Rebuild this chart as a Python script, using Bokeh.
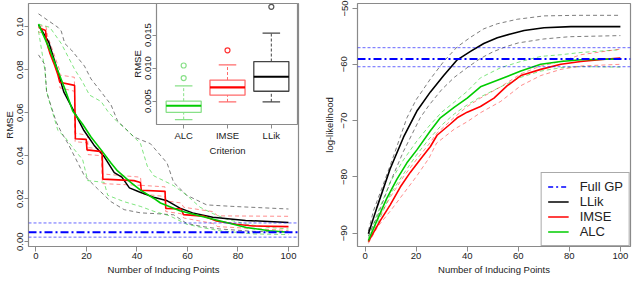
import numpy as np
from bokeh.plotting import figure
from bokeh.models import (GridBox, Span, Legend, LegendItem, FixedTicker,
                          NumeralTickFormatter, Range1d)
from bokeh.embed import file_html
from bokeh.resources import INLINE

FONT = "Liberation Sans"

# ---------------- Left panel data: RMSE vs number of inducing points ----------------
llik_x = [1, 5, 8, 11, 15, 19, 23, 27, 31, 34, 37, 41, 47, 52, 57, 62, 70, 83, 100]
llik_y = [0.1009, 0.093, 0.0817, 0.0697, 0.0607, 0.0517, 0.0449, 0.0396, 0.0321, 0.0300,
          0.0250, 0.0231, 0.0205, 0.0190, 0.0156, 0.0134, 0.0114, 0.0099, 0.0089]
llik_hi_x = [1, 8.7, 10, 11.4, 14, 19.2, 21.8, 25.8, 29.7, 32.3, 38.8, 45.3, 51.9, 54.5,
             59.7, 67.6, 78, 100]
llik_hi_y = [0.106, 0.0997, 0.098, 0.0922, 0.0892, 0.0817, 0.0757, 0.0697, 0.0637, 0.0562,
             0.0487, 0.0456, 0.0366, 0.0276, 0.0216, 0.0171, 0.0164, 0.0152]
llik_lo_x = [1, 3.5, 4.2, 6.2, 8.1, 10, 12.7, 15.3, 19.2, 24.4, 29.7, 34.9, 41.4, 48, 54.5,
             59.7, 65, 72.8, 86, 100]
llik_lo_y = [0.0869, 0.0824, 0.0697, 0.0622, 0.0555, 0.0510, 0.0456, 0.0396, 0.0306, 0.0246,
             0.0186, 0.0149, 0.0134, 0.0130, 0.0125, 0.0085, 0.0072, 0.0059, 0.0048, 0.0044]

imse_x = [1, 3.8, 4.2, 5.5, 7.5, 8.7, 9.4, 15.3, 15.6, 19.9, 20.2, 26.2, 26.5, 38.8, 41.4,
          41.7, 51.1, 51.4, 57.5, 58.4, 66.3, 71.5, 79.3, 86, 100]
imse_y = [0.0997, 0.0982, 0.093, 0.0877, 0.0817, 0.0775, 0.0742, 0.0727, 0.0479, 0.0476,
          0.0427, 0.0419, 0.0291, 0.0284, 0.0275, 0.0239, 0.0234, 0.0155, 0.0152, 0.0126,
          0.0119, 0.0096, 0.0081, 0.0073, 0.0070]
imse_hi_x = [1, 4, 4.5, 9.3, 9.5, 15.2, 15.5, 20.4, 20.6, 26, 26.3, 41.4, 41.7, 51.1, 51.4,
             57.5, 58.5, 70, 72, 100]
imse_hi_y = [0.1005, 0.1000, 0.0960, 0.0800, 0.0775, 0.0765, 0.0505, 0.0495, 0.0438, 0.0430,
             0.0315, 0.0300, 0.0262, 0.0255, 0.0190, 0.0180, 0.0160, 0.0140, 0.0120, 0.0118]
imse_lo_x = imse_hi_x
imse_lo_y = [0.0975, 0.0970, 0.0910, 0.0760, 0.0715, 0.0700, 0.0465, 0.0460, 0.0405, 0.0400,
             0.0270, 0.0262, 0.0222, 0.0210, 0.0140, 0.0130, 0.0110, 0.0085, 0.0070, 0.0052]

alc_x = [1, 5.5, 8.7, 11.4, 14.6, 18.5, 21.8, 25.8, 29.7, 32.3, 37.5, 41.4, 46.7, 49.3,
         57, 65, 75.4, 83.3, 92.4, 100]
alc_y = [0.1012, 0.0892, 0.0794, 0.0712, 0.0607, 0.0546, 0.0487, 0.0427, 0.0366, 0.0329,
         0.0276, 0.0240, 0.0201, 0.0180, 0.0144, 0.0119, 0.0089, 0.0066, 0.0051, 0.0044]
alc_hi_x = [1, 5.5, 10, 15.3, 18.5, 21.2, 25.8, 28.4, 32, 36.2, 41.4, 44.1, 46.7, 51.9, 54.5,
            59.7, 65, 70.2, 75.4, 83.3, 92.4, 100]
alc_hi_y = [0.1012, 0.0997, 0.0922, 0.0802, 0.0742, 0.0682, 0.0652, 0.0607, 0.0560, 0.0517,
            0.0456, 0.0351, 0.0306, 0.0276, 0.0261, 0.0216, 0.0160, 0.0130, 0.0105, 0.0081,
            0.0066, 0.0059]
alc_lo_x = [1, 3.5, 4.2, 6.1, 8.7, 11.4, 15.3, 18.5, 20.5, 27, 28.4, 34.9, 41.4, 46.7, 53,
            59.7, 66, 72.8, 86, 100]
alc_lo_y = [0.0980, 0.0800, 0.0700, 0.0620, 0.0517, 0.0487, 0.0427, 0.0381, 0.0284, 0.0276,
            0.0216, 0.0186, 0.0164, 0.0141, 0.0120, 0.0081, 0.0065, 0.0051, 0.0036, 0.0033]

full_gp_rmse = 0.0044
full_gp_rmse_hi = 0.0087
full_gp_rmse_lo = 0.0021

# ---------------- Inset: boxplot of final RMSE by criterion ----------------
criteria = ["ALC", "IMSE", "LLik"]
box_lo = [0.0022, 0.0049, 0.0049]
box_q1 = [0.0033, 0.0059, 0.0065]
box_med = [0.0043, 0.0071, 0.0087]
box_q3 = [0.0050, 0.0082, 0.0110]
box_hi = [0.0073, 0.0105, 0.0153]
out_crit = ["ALC", "ALC", "IMSE", "LLik"]
out_val = [0.0085, 0.0104, 0.0127, 0.0193]

# ---------------- Right panel data: log-likelihood ----------------
ll_llik_x = [1.3, 4.6, 9.8, 15.1, 20.3, 25.6, 30.8, 36.1, 41.3, 46.5, 51.8, 57, 62.3, 70.1, 80.6, 100]
ll_llik_y = [-90.1, -85.5, -78.6, -72.9, -68.3, -64.9, -62.0, -59.2, -57.7, -56.3, -55.3,
             -54.6, -54.0, -53.5, -53.3, -53.3]
ll_llik_hi_x = [1.3, 3.3, 7, 11, 16.4, 20, 25.6, 30.8, 36.1, 41.3, 46.5, 51.8, 59.6, 70.1, 83, 100]
ll_llik_hi_y = [-89.6, -86.0, -81.5, -76.5, -69.5, -66.3, -62.6, -59.5, -56.9, -55.2, -53.7,
                -52.8, -52.0, -51.4, -51.3, -51.3]
ll_llik_lo_x = [1.3, 5, 10, 15, 21.6, 25, 30, 35, 40, 45, 50, 55, 60, 70, 80, 100]
ll_llik_lo_y = [-90.5, -86.8, -80.8, -75.5, -69.5, -67.3, -64.5, -62.3, -60.6, -59.0, -57.8,
                -56.9, -56.2, -55.5, -55.1, -54.9]

ll_imse_x = [1.3, 5.9, 9.8, 13.8, 17.7, 21.6, 25.6, 28.2, 33.4, 36.1, 40, 45.2, 50.5, 55.7,
             61, 68.8, 76.7, 84.5, 95, 100]
ll_imse_y = [-91.5, -87.8, -85.0, -81.8, -79.2, -76.9, -74.6, -72.6, -70.6, -69.5, -68.5,
             -67.5, -66.0, -63.8, -62.0, -60.9, -60.0, -59.5, -59.05, -58.9]
ll_imse_hi_x = [1.3, 5, 10, 15, 20, 25, 28, 35, 40, 45.2, 53.1, 61, 68.8, 76.7, 84.5, 100]
ll_imse_hi_y = [-91.3, -87.6, -83.5, -80.0, -77.0, -74.2, -72.3, -69.4, -67.5, -66.0, -64.0,
                -61.7, -60.3, -59.5, -58.3, -57.3]
ll_imse_lo_x = [1.3, 5, 10, 15, 20, 25, 28, 35, 40, 45.2, 53.1, 61, 68.8, 76.7, 84.5, 100]
ll_imse_lo_y = [-91.8, -88.8, -86.0, -83.0, -80.0, -76.7, -74.0, -71.5, -70.2, -68.6, -66.6,
                -63.8, -62.0, -60.9, -60.3, -60.0]

ll_alc_x = [1.3, 4.6, 8.5, 12.5, 16.4, 20.3, 25.6, 29.5, 35, 40, 45.2, 53.1, 61, 68.8, 76.7, 84.5, 100]
ll_alc_y = [-91.3, -87.8, -83.8, -80.4, -77.5, -75.2, -71.8, -69.5, -67.6, -66.0, -64.0,
            -62.6, -61.2, -60.0, -59.5, -59.2, -59.05]
ll_alc_hi_x = [1.3, 5, 10, 15, 20, 25, 30, 35, 40, 45.2, 53.1, 61, 68.8, 76.7, 84.5, 100]
ll_alc_hi_y = [-90.8, -86.3, -80.8, -77.0, -73.8, -71.0, -68.5, -66.7, -64.8, -62.4, -60.6,
               -59.5, -58.6, -58.3, -57.9, -57.4]
ll_alc_lo_x = [1.3, 5, 10, 15, 20, 25, 30, 35, 40, 45.2, 53.1, 61, 68.8, 76.7, 84.5, 100]
ll_alc_lo_y = [-91.6, -88.2, -83.0, -79.5, -76.2, -73.3, -70.8, -68.8, -67.2, -65.8, -64.0,
               -62.3, -61.2, -60.6, -60.4, -60.5]

full_gp_ll = -59.05
full_gp_ll_hi = -57.05
full_gp_ll_lo = -60.43

x_ticks = [0, 20, 40, 60, 80, 100]
rmse_ticks = [0.00, 0.02, 0.04, 0.06, 0.08, 0.10]
inset_ticks = [0.005, 0.010, 0.015]
ll_ticks = [-90, -80, -70, -60, -50]

# ---------------- colours ----------------
BLACK = "#000000"
GRAYD = "#666666"
RED = "#FF0000"
GREEN = "#00CC00"
BLUE = "#0000FF"
FRAME = "#8a8a8a"
TXT = "#222222"


def make_fig(width, height, xr, yr, left, right, top, bottom, xlabel, ylabel):
    p = figure(width=width, height=height, x_range=Range1d(*xr), y_range=Range1d(*yr),
               output_backend="svg", toolbar_location=None, min_border_left=left,
               min_border_right=right, min_border_top=top, min_border_bottom=bottom)
    p.grid.visible = False
    p.outline_line_color = FRAME
    p.outline_line_width = 1.2
    p.background_fill_color = "white"
    for ax in (p.xaxis, p.yaxis):
        ax.axis_line_color = None
        ax.major_tick_line_color = FRAME
        ax.major_tick_in = 0
        ax.minor_tick_line_color = None
        ax.major_label_text_font = FONT
        ax.major_label_text_font_size = "9.5px"
        ax.major_label_text_color = TXT
        ax.axis_label_text_font = FONT
        ax.axis_label_text_font_size = "9.5px"
        ax.axis_label_text_font_style = "normal"
        ax.axis_label_text_color = TXT
    p.xaxis.axis_label = xlabel
    p.yaxis.axis_label = ylabel
    p.yaxis.major_label_orientation = "vertical"
    return p


def axis_space(ax, tick_out, lab_stand, title_stand):
    ax.major_tick_out = tick_out
    ax.major_label_standoff = lab_stand
    ax.axis_label_standoff = title_stand


def band(p, xs, ys, color, alpha, width=1.0, dash="4 3"):
    return p.line(xs, ys, line_color=color, line_alpha=alpha, line_width=width, line_dash=dash)


# ================= Left figure =================
p1 = make_fig(312, 277, (-2.96, 103.96), (-0.00225, 0.1108), 28, 14, 3, 28,
              "Number of Inducing Points", "RMSE")
axis_space(p1.xaxis[0], 5, 1, 2)
axis_space(p1.yaxis[0], 4, 1, 0)
p1.xaxis.ticker = FixedTicker(ticks=x_ticks)
p1.yaxis.ticker = FixedTicker(ticks=rmse_ticks)
p1.yaxis.formatter = NumeralTickFormatter(format="0.00")

for v, dash, w, a in [(full_gp_rmse_hi, "3 2", 1, 0.6), (full_gp_rmse_lo, "3 2", 1, 0.6),
                      (full_gp_rmse, "8 3 2 3", 2, 1.0)]:
    p1.add_layout(Span(location=v, dimension="width", line_color=BLUE, line_dash=dash,
                       line_width=w, line_alpha=a))

band(p1, llik_hi_x, llik_hi_y, GRAYD, 0.85)
band(p1, llik_lo_x, llik_lo_y, GRAYD, 0.85)
band(p1, alc_hi_x, alc_hi_y, GREEN, 0.5)
band(p1, alc_lo_x, alc_lo_y, GREEN, 0.5)
band(p1, imse_hi_x, imse_hi_y, RED, 0.45)
band(p1, imse_lo_x, imse_lo_y, RED, 0.45)
p1.line(llik_x, llik_y, line_color=BLACK, line_width=1.5)
p1.line(imse_x, imse_y, line_color=RED, line_width=1.6)
p1.line(alc_x, alc_y, line_color=GREEN, line_width=1.6)

# ================= Inset figure =================
pos = np.arange(1, len(criteria) + 1, dtype=float)
pin = make_fig(170, 158, (0.38, 3.62), (0.00146, 0.0198), 28, 0, 3, 26, "Criterion", "RMSE")
axis_space(pin.xaxis[0], 4, 1, 1)
axis_space(pin.yaxis[0], 4, 1, 0)
pin.border_fill_color = None
pin.xaxis.ticker = FixedTicker(ticks=list(pos))
pin.xaxis.major_label_overrides = {i + 1: c for i, c in enumerate(criteria)}
pin.yaxis.ticker = FixedTicker(ticks=inset_ticks)
pin.yaxis.formatter = NumeralTickFormatter(format="0.000")

box_line = ["#88E088", "#FF6A6A", "#444444"]
med_col = ["#00CC00", "#FF0000", "#000000"]
out_col = ["#88E088", "#FF3333", "#555555"]
half = 0.4
cap = 0.2
pin.vbar(x=pos, width=2 * half, bottom=box_q1, top=box_q3, fill_alpha=0,
         line_color=box_line, line_width=1.3)
pin.segment(x0=pos, y0=box_q3, x1=pos, y1=box_hi, line_color=box_line, line_dash="3 2", line_width=1)
pin.segment(x0=pos, y0=box_lo, x1=pos, y1=box_q1, line_color=box_line, line_dash="3 2", line_width=1)
pin.segment(x0=pos - cap, y0=box_hi, x1=pos + cap, y1=box_hi, line_color=box_line, line_width=1.3)
pin.segment(x0=pos - cap, y0=box_lo, x1=pos + cap, y1=box_lo, line_color=box_line, line_width=1.3)
pin.segment(x0=pos - half, y0=box_med, x1=pos + half, y1=box_med, line_color=med_col, line_width=2.2)
out_pos = [criteria.index(c) + 1 for c in out_crit]
pin.scatter(out_pos, out_val, marker="circle", size=5, fill_alpha=0,
            line_color=[out_col[criteria.index(c)] for c in out_crit], line_width=1.2)

# ================= Right figure =================
p2 = make_fig(320, 277, (-2.96, 103.96), (-92.36, -49.2), 45, 2, 3, 28,
              "Number of Inducing Points", "log-likelihood")
axis_space(p2.xaxis[0], 5, 1, 2)
axis_space(p2.yaxis[0], 5, 5, 4)
p2.xaxis.ticker = FixedTicker(ticks=x_ticks)
p2.yaxis.ticker = FixedTicker(ticks=ll_ticks)

for v, dash, w, a in [(full_gp_ll_hi, "3 2", 1, 0.6), (full_gp_ll_lo, "3 2", 1, 0.6),
                      (full_gp_ll, "8 3 2 3", 2, 1.0)]:
    p2.add_layout(Span(location=v, dimension="width", line_color=BLUE, line_dash=dash,
                       line_width=w, line_alpha=a))

band(p2, ll_llik_hi_x, ll_llik_hi_y, GRAYD, 0.85)
band(p2, ll_llik_lo_x, ll_llik_lo_y, GRAYD, 0.85)
band(p2, ll_alc_hi_x, ll_alc_hi_y, GREEN, 0.5)
band(p2, ll_alc_lo_x, ll_alc_lo_y, GREEN, 0.5)
band(p2, ll_imse_hi_x, ll_imse_hi_y, RED, 0.45)
band(p2, ll_imse_lo_x, ll_imse_lo_y, RED, 0.45)
r_llik = p2.line(ll_llik_x, ll_llik_y, line_color=BLACK, line_width=1.6)
r_imse = p2.line(ll_imse_x, ll_imse_y, line_color=RED, line_width=1.6)
r_alc = p2.line(ll_alc_x, ll_alc_y, line_color=GREEN, line_width=1.6)
# legend proxy for the Full GP reference line (drawn above as a Span)
r_full = p2.line([ll_llik_x[0], ll_llik_x[-1]], [full_gp_ll, full_gp_ll], line_color=BLUE,
                 line_width=1.5, line_dash="5 3 2 3", visible=False)

legend = Legend(items=[LegendItem(label="Full GP", renderers=[r_full]),
                       LegendItem(label="LLik", renderers=[r_llik]),
                       LegendItem(label="IMSE", renderers=[r_imse]),
                       LegendItem(label="ALC", renderers=[r_alc])],
                location="bottom_right")
legend.label_text_font = FONT
legend.label_text_font_size = "13px"
legend.label_text_color = TXT
legend.glyph_width = 21
legend.glyph_height = 13
legend.label_height = 13
legend.spacing = 0
legend.padding = 6
legend.margin = 0
legend.label_standoff = 11
legend.border_line_color = "#555555"
legend.border_line_width = 1
legend.background_fill_color = "white"
legend.background_fill_alpha = 1
p2.add_layout(legend)

grid = GridBox(children=[(p1, 0, 0, 2, 3), (pin, 0, 1, 1, 1), (p2, 0, 3, 2, 1)],
               rows=["158px", "119px"], cols=["128px", "170px", "14px", "320px"],
               spacing=0)

open("out.html", "w").write(file_html(grid, INLINE))
